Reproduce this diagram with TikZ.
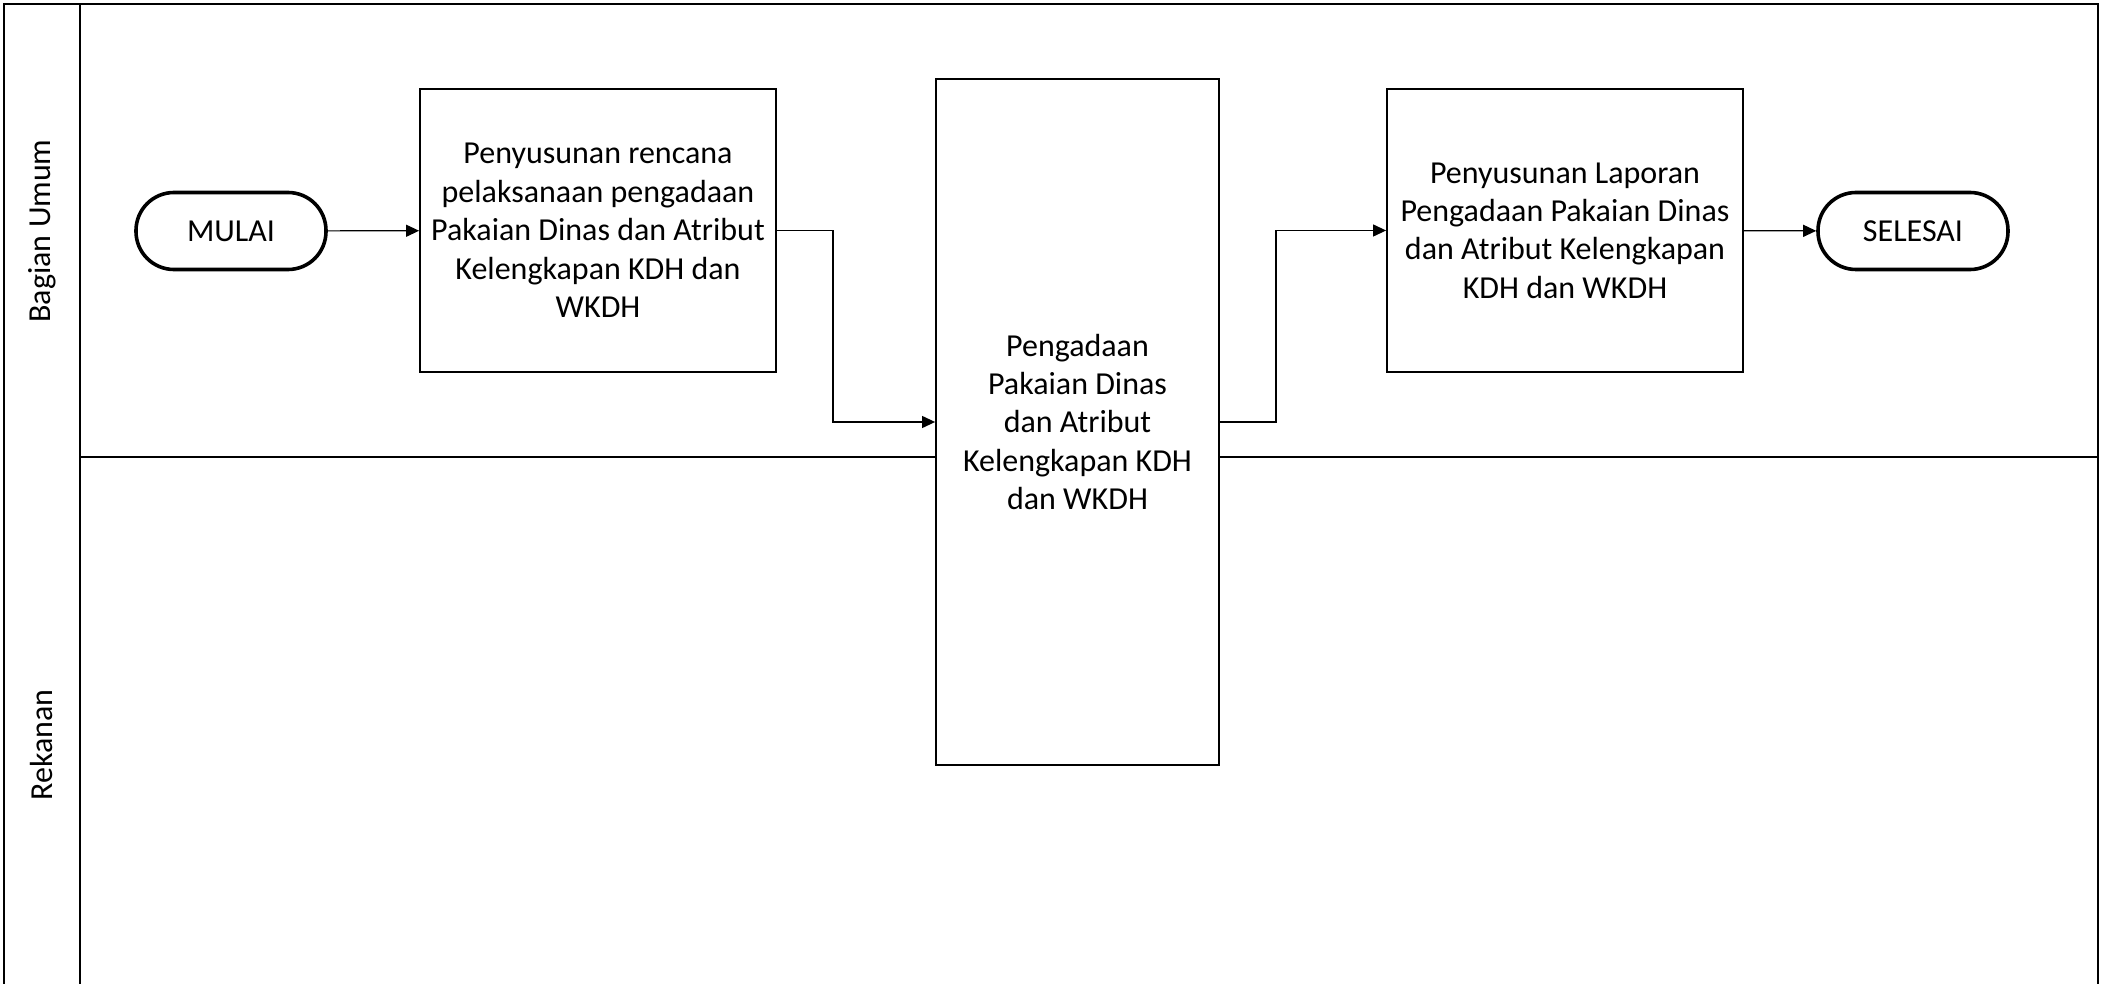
\documentclass[tikz,border=0pt]{standalone}
\usepackage{fontspec}
\setmainfont{Carlito}
\usetikzlibrary{arrows.meta}

\begin{document}
\begin{tikzpicture}[x=0.5pt, y=-0.5pt, every node/.style={font=\fontsize{16}{19.2}\selectfont}]
    % Styles
    \tikzstyle{terminal} = [rectangle, rounded corners=19pt, minimum width=95pt, minimum height=38.5pt, draw=black, line width=1.8pt, fill=white]
    \tikzstyle{process} = [rectangle, minimum width=178pt, minimum height=141.5pt, text centered, align=center, draw=black, line width=0.9pt, fill=white]
    \tikzstyle{arrow} = [line width=0.6pt, -{Triangle[length=6.5pt, width=6pt]}]
    \tikzstyle{lane} = [line width=1.4pt]
    \tikzstyle{lanelabel} = [rotate=90]

    \useasboundingbox (0,0) rectangle (2105,984);

    % Lanes
    \draw [lane] (4,984) -- (4,4) -- (2098,4) -- (2098,984);
    \draw [lane] (80,4) -- (80,984);
    \draw [lane] (80,457) -- (2098,457);
    \node (umum) [lanelabel] at (42,231) {Bagian Umum};
    \node (rekanan) [lanelabel] at (42,745) {Rekanan};

    % Nodes
    \node (mulai) [terminal] at (231,231) {MULAI};
    \node (rencana) [process] at (598,230.5) {Penyusunan rencana\\pelaksanaan pengadaan\\Pakaian Dinas dan Atribut\\Kelengkapan KDH dan\\WKDH};
    \node (pengadaan) [process, minimum width=141.5pt, minimum height=343pt] at (1077.5,422) {Pengadaan\\Pakaian Dinas\\dan Atribut\\Kelengkapan KDH\\dan WKDH};
    \node (laporan) [process] at (1565,230.5) {Penyusunan Laporan\\Pengadaan Pakaian Dinas\\dan Atribut Kelengkapan\\KDH dan WKDH};
    \node (selesai) [terminal] at (1913,231) {SELESAI};

    % Arrows
    \draw [arrow] (mulai) -- (rencana);
    \draw [arrow] (rencana.east) -- ++(56,0) |- (pengadaan.west);
    \draw [arrow] (pengadaan.east) -- ++(56,0) |- (laporan.west);
    \draw [arrow] (laporan) -- (selesai);
\end{tikzpicture}
\end{document}
